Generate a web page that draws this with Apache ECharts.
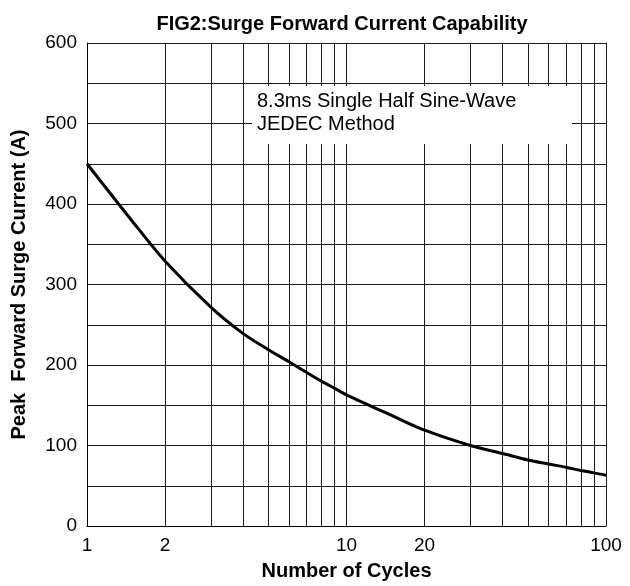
<!DOCTYPE html>
<html>
<head>
<meta charset="utf-8">
<script src="https://cdn.jsdelivr.net/npm/echarts@6/dist/echarts.min.js"></script>
<style>
  html, body { margin: 0; padding: 0; background: #fff; }
  #chart { width: 630px; height: 586px; }
</style>
</head>
<body>
<div id="chart"></div>
<script>
// values (x read on the log decades, y on the local grid)
const cycles = [1, 1.5, 2, 3, 4, 5, 6, 7, 8, 9, 10, 15, 20, 30, 40, 50, 60, 70, 80, 90, 100];
const surgeCurrent = [450, 378, 329, 272, 239, 219, 204, 191, 180, 171, 163, 137, 119, 100, 90, 82, 77, 73, 69, 66, 63];

const xLabelValues = [1, 2, 10, 20, 100];
const xGridValues = [1, 2, 3, 4, 5, 6, 7, 8, 9, 10, 20, 30, 40, 50, 60, 70, 80, 90, 100];

const titleText = 'FIG2:Surge Forward Current Capability';
const noteText = '8.3ms Single Half Sine-Wave\nJEDEC Method';
const xName = 'Number of Cycles';
const yName = 'Peak  Forward Surge Current (A)';

const font = "'Liberation Sans', Arial, sans-serif";
const gridColor = '#1a1a1a';

const chart = echarts.init(document.getElementById('chart'), null, { renderer: 'canvas' });

const option = {
  backgroundColor: '#fff',
  animation: false,
  title: {
    text: titleText,
    left: 337,
    textAlign: 'center',
    top: 9,
    textStyle: { fontFamily: font, fontSize: 20, fontWeight: 'bold', color: '#000' }
  },
  grid: { left: 87, right: 24, top: 43, bottom: 59 },
  xAxis: {
    type: 'log',
    logBase: 10,
    min: 1,
    max: 100,
    name: xName,
    nameLocation: 'middle',
    nameGap: 35,
    nameTextStyle: { fontFamily: font, fontSize: 20, fontWeight: 'bold', color: '#000' },
    axisLine: { show: true, lineStyle: { color: '#000', width: 1 } },
    axisTick: { show: false, customValues: xGridValues },
    axisLabel: {
      customValues: xLabelValues,
      margin: 10,
      fontFamily: font,
      fontSize: 19,
      color: '#000',
      formatter: (v) => String(Math.round(v))
    },
    splitLine: { show: true, lineStyle: { color: gridColor, width: 1 } }
  },
  yAxis: {
    type: 'value',
    min: 0,
    max: 600,
    interval: 50,
    name: yName,
    nameLocation: 'middle',
    nameGap: 58,
    nameTextStyle: { fontFamily: font, fontSize: 20, fontWeight: 'bold', color: '#000' },
    axisLine: { show: true, lineStyle: { color: '#000', width: 1 } },
    axisTick: { show: false },
    axisLabel: {
      margin: 10,
      fontFamily: font,
      fontSize: 19,
      color: '#000',
      formatter: (v) => (v % 100 === 0 ? String(v) : '')
    },
    splitLine: { show: true, lineStyle: { color: gridColor, width: 1 } }
  },
  graphic: [
    {
      type: 'rect',
      z: 100,
      shape: { x: 252, y: 86, width: 320, height: 58 },
      style: { fill: '#fff' }
    },
    {
      type: 'text',
      z: 101,
      x: 257,
      y: 90,
      style: {
        text: noteText,
        fontFamily: font,
        fontSize: 20,
        lineHeight: 23,
        fill: '#000'
      }
    }
  ],
  series: [
    {
      type: 'line',
      data: cycles.map((c, i) => [c, surgeCurrent[i]]),
      smooth: 0.3,
      showSymbol: false,
      lineStyle: { color: '#000', width: 3 },
      z: 5
    }
  ]
};

chart.setOption(option);
</script>
</body>
</html>
